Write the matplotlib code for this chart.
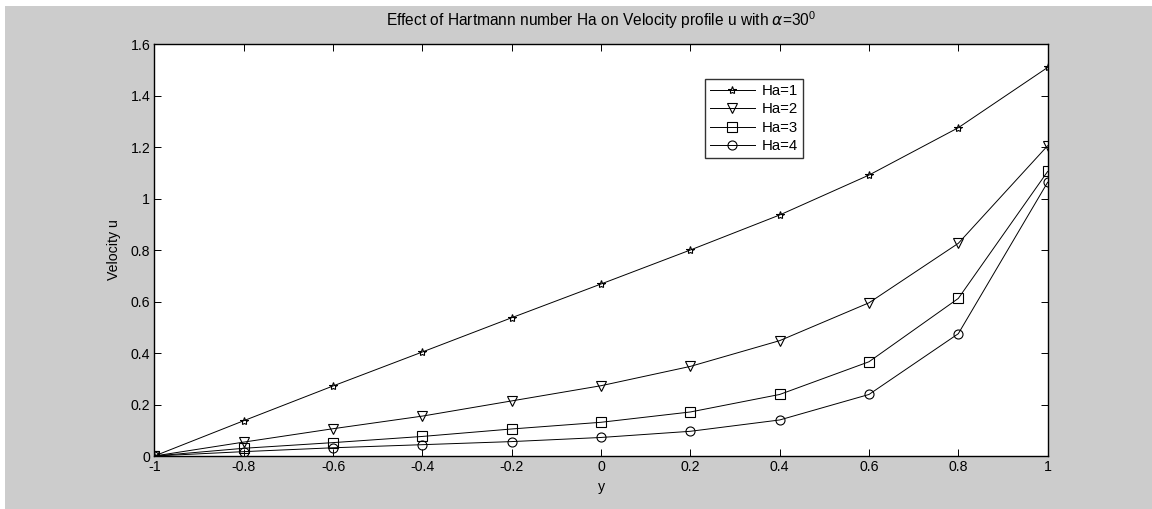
import matplotlib
matplotlib.use("Agg")
import matplotlib.pyplot as plt
from matplotlib.patches import Rectangle

# data
y = [-1, -0.8, -0.6, -0.4, -0.2, 0, 0.2, 0.4, 0.6, 0.8, 1]
u_ha1 = [0, 0.137, 0.272, 0.404, 0.537, 0.668, 0.800, 0.936, 1.091, 1.275, 1.509]
u_ha2 = [0, 0.054, 0.106, 0.155, 0.214, 0.273, 0.348, 0.448, 0.595, 0.826, 1.205]
u_ha3 = [0, 0.030, 0.052, 0.076, 0.105, 0.131, 0.171, 0.239, 0.366, 0.612, 1.105]
u_ha4 = [0, 0.017, 0.032, 0.044, 0.056, 0.072, 0.096, 0.140, 0.239, 0.475, 1.063]
labels = ["Ha=1", "Ha=2", "Ha=3", "Ha=4"]
x_ticks = [-1, -0.8, -0.6, -0.4, -0.2, 0, 0.2, 0.4, 0.6, 0.8, 1]
y_ticks = [0, 0.2, 0.4, 0.6, 0.8, 1, 1.2, 1.4, 1.6]

plt.rcParams['font.family'] = ['Liberation Sans', 'DejaVu Sans']
plt.rcParams['mathtext.fontset'] = 'custom'
plt.rcParams['mathtext.rm'] = 'Liberation Sans'
fs = 10.2

fig = plt.figure(figsize=(11.52, 5.09), dpi=100, facecolor='white')
# MATLAB grey figure background, thin white strip at top/left
fig.patches.append(Rectangle((5 / 1152, 0), 1, 1 - 6 / 509, transform=fig.transFigure,
                             facecolor='#cccccc', edgecolor='none', zorder=-10))

ax = fig.add_axes([0.1340, 0.1041, 0.7754, 0.8094])
ax.set_facecolor('white')

series = [u_ha1, u_ha2, u_ha3, u_ha4]
markers = ['*', 'v', 's', 'o']
sizes = [6, 7.5, 6.5, 6.5]
for vals, m, ms, lab in zip(series, markers, sizes, labels):
    ax.plot(y, vals, color='black', lw=0.7, marker=m, ms=ms, mfc='none',
            mec='black', mew=0.8, label=lab)

ax.set_xlim(-1, 1)
ax.set_ylim(0, 1.6)
ax.set_xticks(x_ticks)
ax.set_xticklabels([f"{t:g}" for t in x_ticks])
ax.set_yticks(y_ticks)
ax.set_yticklabels([f"{t:g}" for t in y_ticks])
ax.tick_params(direction='in', length=5, width=0.7, top=True, right=True,
               labelsize=fs, pad=3, colors='black')
for s in ax.spines.values():
    s.set_linewidth(1.0)

ax.set_title(r"Effect of Hartmann number Ha on Velocity profile u with $\alpha$=30$^0$",
             fontsize=11.2, pad=13)
ax.set_xlabel("y", fontsize=fs, labelpad=4)
ax.set_ylabel("Velocity u", fontsize=fs, labelpad=7)

leg = ax.legend(loc='upper left', bbox_to_anchor=(0.6165, 0.914),
                fontsize=10.8, frameon=True, fancybox=False, edgecolor='black',
                handlelength=3.0, handletextpad=0.5, borderpad=0.3, labelspacing=0.3,
                borderaxespad=0)
leg.get_frame().set_linewidth(1.0)

fig.savefig("out.png", dpi=100, facecolor=fig.get_facecolor())
